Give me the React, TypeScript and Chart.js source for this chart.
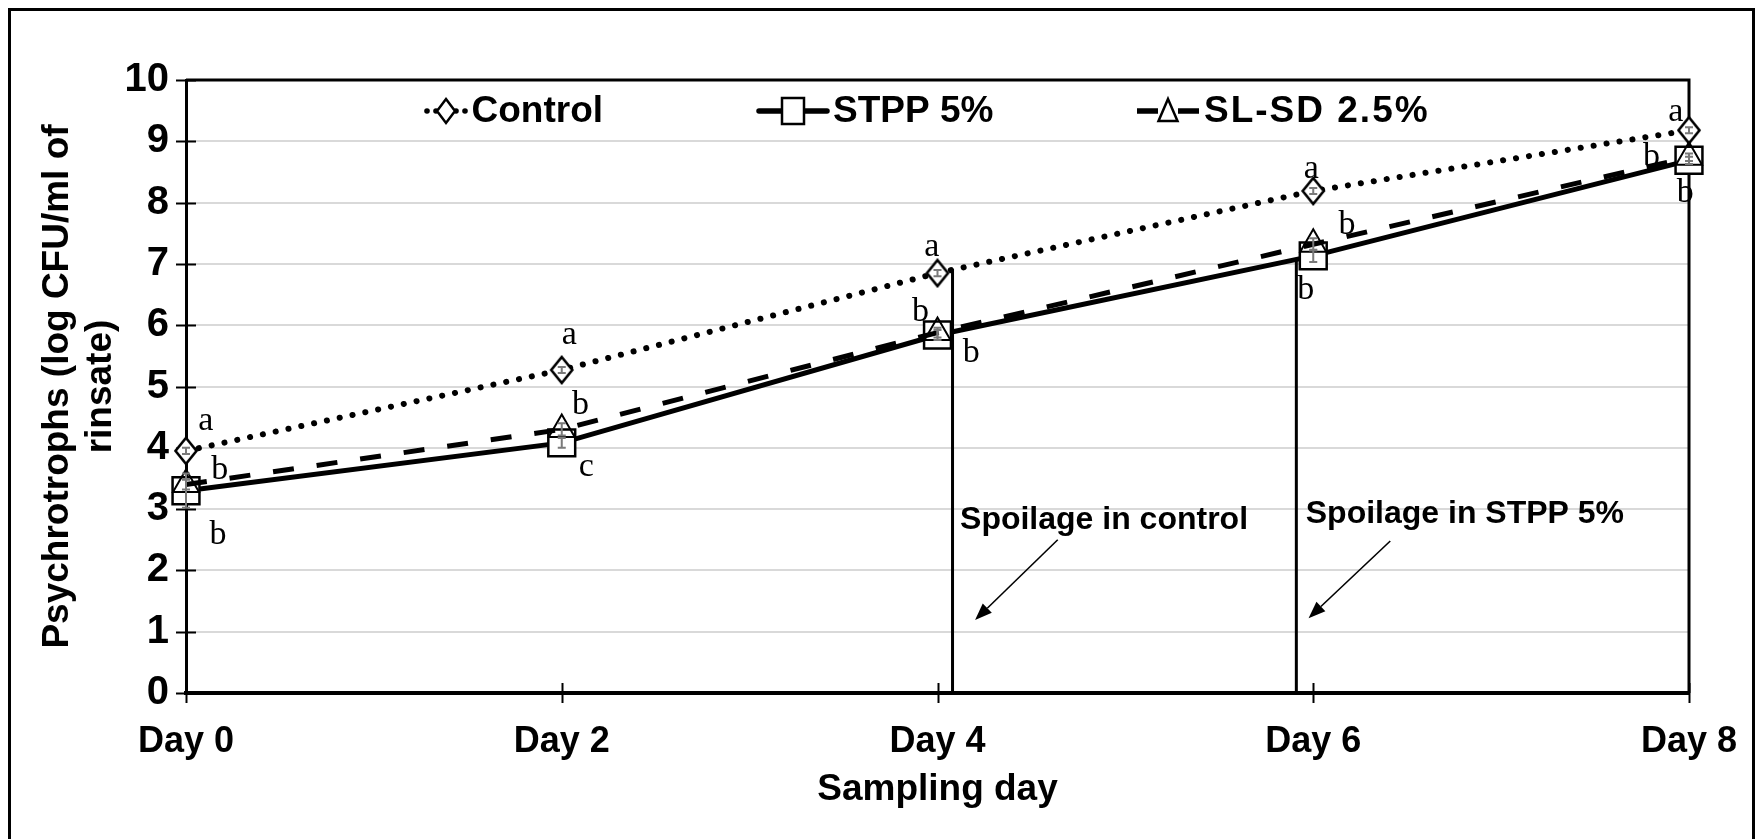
import React, { useEffect, useRef } from 'react';
import { Chart, registerables } from 'chart.js';

Chart.register(...registerables);

// ---------------- data ----------------
const days = [0, 2, 4, 6, 8];
const dayLabels = ['Day 0', 'Day 2', 'Day 4', 'Day 6', 'Day 8'];
const seriesNames = ['Control', 'STPP 5%', 'SL-SD 2.5%'];
const controlValues = [3.95, 5.27, 6.85, 8.19, 9.18];
const stppValues = [3.3, 4.08, 5.84, 7.13, 8.69];
const slsdValues = [3.4, 4.3, 5.88, 7.32, 8.74];
const controlSd = [0.05, 0.05, 0.05, 0.05, 0.05];
const stppSd = [0.28, 0.08, 0.08, 0.1, 0.06];
const slsdSd = [0.08, 0.1, 0.08, 0.1, 0.06];
const yTickValues = [0, 1, 2, 3, 4, 5, 6, 7, 8, 9, 10];

// significance letters (data coordinates)
const letterX = [0.106, 0.18, 0.17, 2.04, 2.1, 2.13, 3.97, 3.91, 4.18, 5.99, 6.18, 5.96, 7.93, 7.8, 7.98];
const letterY = [4.44, 3.64, 2.58, 5.84, 4.7, 3.69, 7.28, 6.22, 5.55, 8.54, 7.64, 6.58, 9.47, 8.75, 8.16];
const letterText = ['a', 'b', 'b', 'a', 'b', 'c', 'a', 'b', 'b', 'a', 'b', 'b', 'a', 'b', 'b'];

// spoilage markers (data coordinates)
const spoilageLineX = [4.08, 5.91];
const spoilageLineTop = [6.92, 7.08];
const noteText = ['Spoilage in control', 'Spoilage in STPP 5%'];
const noteX = [4.12, 5.96];
const noteY = [2.82, 2.92];
const arrowFromX = [4.64, 6.41];
const arrowFromY = [2.5, 2.48];
const arrowToX = [4.2, 5.975];
const arrowToY = [1.19, 1.22];

const SANS = '"Liberation Sans", Arial, sans-serif';
const SERIF = '"Liberation Serif", "Times New Roman", serif';

type Marker = 'diamond' | 'square' | 'triangle';

function diamondPath(ctx: CanvasRenderingContext2D, x: number, y: number, hw: number, hh: number) {
  ctx.beginPath();
  ctx.moveTo(x, y - hh);
  ctx.lineTo(x + hw, y);
  ctx.lineTo(x, y + hh);
  ctx.lineTo(x - hw, y);
  ctx.closePath();
}

function makeDiamondImage(): HTMLCanvasElement {
  const c = document.createElement('canvas');
  c.width = 26;
  c.height = 30;
  const g = c.getContext('2d')!;
  g.fillStyle = '#fff';
  g.strokeStyle = '#000';
  g.lineWidth = 2.6;
  diamondPath(g, 13, 15, 10.5, 13);
  g.fill();
  g.stroke();
  return c;
}

function drawMarker(ctx: CanvasRenderingContext2D, m: Marker, x: number, y: number) {
  ctx.save();
  ctx.fillStyle = '#fff';
  ctx.strokeStyle = '#000';
  ctx.lineWidth = 2.5;
  ctx.setLineDash([]);
  if (m === 'diamond') {
    diamondPath(ctx, x, y, 9, 12);
  } else if (m === 'square') {
    ctx.beginPath();
    ctx.rect(x - 11, y - 13, 22, 26);
  } else {
    ctx.beginPath();
    ctx.moveTo(x, y - 12);
    ctx.lineTo(x + 9.5, y + 10);
    ctx.lineTo(x - 9.5, y + 10);
    ctx.closePath();
  }
  ctx.fill();
  ctx.stroke();
  ctx.restore();
}

const decorPlugin = {
  id: 'decor',
  beforeDraw(chart: any) {
    const { ctx, width, height } = chart;
    ctx.save();
    ctx.fillStyle = '#fff';
    ctx.fillRect(0, 0, width, height);
    ctx.restore();
  },
  beforeDatasetsDraw(chart: any) {
    const { ctx, chartArea: a, scales } = chart;
    const xs = scales.x;
    const ys = scales.y;
    ctx.save();
    ctx.strokeStyle = '#000';
    ctx.lineWidth = 3;
    ctx.beginPath();
    ctx.moveTo(a.left, a.top);
    ctx.lineTo(a.right, a.top);
    ctx.lineTo(a.right, a.bottom);
    ctx.stroke();
    // crossing tick marks
    ctx.lineWidth = 2;
    yTickValues.forEach((v) => {
      const py = Math.round(ys.getPixelForValue(v)) + 0.5;
      ctx.beginPath();
      ctx.moveTo(a.left - 10, py);
      ctx.lineTo(a.left + 10, py);
      ctx.stroke();
    });
    days.forEach((d) => {
      const px = Math.round(xs.getPixelForValue(d)) + 0.5;
      ctx.beginPath();
      ctx.moveTo(px, a.bottom - 10);
      ctx.lineTo(px, a.bottom + 10);
      ctx.stroke();
    });
    // spoilage vertical lines
    ctx.lineWidth = 3;
    spoilageLineX.forEach((sx, i) => {
      const px = xs.getPixelForValue(sx);
      ctx.beginPath();
      ctx.moveTo(px, ys.getPixelForValue(spoilageLineTop[i]));
      ctx.lineTo(px, ys.getPixelForValue(0));
      ctx.stroke();
    });
    ctx.restore();
  },
  afterDatasetsDraw(chart: any) {
    const { ctx, chartArea: a, scales } = chart;
    const xs = scales.x;
    const ys = scales.y;
    ctx.save();
    // error bars
    const sets = [
      { v: slsdValues, sd: slsdSd },
      { v: stppValues, sd: stppSd },
      { v: controlValues, sd: controlSd },
    ];
    ctx.strokeStyle = '#7a7a7a';
    ctx.lineWidth = 2;
    sets.forEach((s) => {
      days.forEach((d, i) => {
        const px = xs.getPixelForValue(d);
        const p1 = ys.getPixelForValue(s.v[i] - s.sd[i]);
        const p2 = ys.getPixelForValue(s.v[i] + s.sd[i]);
        ctx.beginPath();
        ctx.moveTo(px, p1);
        ctx.lineTo(px, p2);
        ctx.moveTo(px - 4, p1);
        ctx.lineTo(px + 4, p1);
        ctx.moveTo(px - 4, p2);
        ctx.lineTo(px + 4, p2);
        ctx.stroke();
      });
    });
    // letters
    ctx.fillStyle = '#000';
    ctx.font = `34px ${SERIF}`;
    ctx.textAlign = 'center';
    ctx.textBaseline = 'middle';
    letterText.forEach((t, i) => {
      ctx.fillText(t, xs.getPixelForValue(letterX[i]), ys.getPixelForValue(letterY[i]));
    });
    // spoilage notes
    ctx.font = `bold 32px ${SANS}`;
    ctx.textAlign = 'left';
    noteText.forEach((t, i) => {
      ctx.fillText(t, xs.getPixelForValue(noteX[i]), ys.getPixelForValue(noteY[i]));
      const x0 = xs.getPixelForValue(arrowFromX[i]);
      const y0 = ys.getPixelForValue(arrowFromY[i]);
      const x1 = xs.getPixelForValue(arrowToX[i]);
      const y1 = ys.getPixelForValue(arrowToY[i]);
      const ang = Math.atan2(y1 - y0, x1 - x0);
      const hl = 17;
      const hw = 6.5;
      const bx = x1 - Math.cos(ang) * hl;
      const by = y1 - Math.sin(ang) * hl;
      ctx.strokeStyle = '#000';
      ctx.lineWidth = 1.6;
      ctx.beginPath();
      ctx.moveTo(x0, y0);
      ctx.lineTo(bx, by);
      ctx.stroke();
      ctx.beginPath();
      ctx.moveTo(x1, y1);
      ctx.lineTo(bx + Math.sin(ang) * hw, by - Math.cos(ang) * hw);
      ctx.lineTo(bx - Math.sin(ang) * hw, by + Math.cos(ang) * hw);
      ctx.closePath();
      ctx.fill();
    });
    // legend
    const ly = a.top + 31;
    const L = a.left;
    ctx.save();
    ctx.fillStyle = '#000';
    [241, 250, 270, 279].forEach((dx) => {
      ctx.beginPath();
      ctx.arc(L + dx, ly, 2.8, 0, Math.PI * 2);
      ctx.fill();
    });
    ctx.strokeStyle = '#000';
    ctx.lineWidth = 5.5;
    ctx.lineCap = 'round';
    ctx.beginPath();
    ctx.moveTo(L + 573, ly);
    ctx.lineTo(L + 641, ly);
    ctx.stroke();
    ctx.lineCap = 'butt';
    ctx.beginPath();
    ctx.moveTo(L + 951, ly);
    ctx.lineTo(L + 972, ly);
    ctx.moveTo(L + 992, ly);
    ctx.lineTo(L + 1013, ly);
    ctx.stroke();
    ctx.restore();
    drawMarker(ctx, 'diamond', L + 260, ly);
    drawMarker(ctx, 'square', L + 607, ly);
    drawMarker(ctx, 'triangle', L + 982, ly);
    const textX = [285.5, 647, 1018];
    const spacing = ['0px', '0px', '2px'];
    ctx.fillStyle = '#000';
    ctx.font = `bold 37px ${SANS}`;
    ctx.textAlign = 'left';
    ctx.textBaseline = 'middle';
    seriesNames.forEach((n, i) => {
      (ctx as any).letterSpacing = spacing[i];
      ctx.fillText(n, L + textX[i], ly + 1);
    });
    (ctx as any).letterSpacing = '0px';
    ctx.restore();
  },
  afterDraw(chart: any) {
    const { ctx } = chart;
    ctx.save();
    ctx.strokeStyle = '#000';
    ctx.lineWidth = 3;
    ctx.beginPath();
    ctx.moveTo(9.5, 900);
    ctx.lineTo(9.5, 9.5);
    ctx.lineTo(1753.5, 9.5);
    ctx.lineTo(1753.5, 900);
    ctx.stroke();
    ctx.restore();
  },
};

export default function App() {
  const ref = useRef<HTMLCanvasElement | null>(null);
  useEffect(() => {
    if (!ref.current) return;
    const pts = (vals: number[]) => days.map((d, i) => ({ x: d, y: vals[i] }));
    const diamond = makeDiamondImage();
    const chart = new Chart(ref.current, {
      type: 'line',
      data: {
        datasets: [
          {
            label: seriesNames[0],
            data: pts(controlValues),
            borderColor: '#000',
            borderWidth: 6,
            borderDash: [0.1, 13],
            borderCapStyle: 'round',
            pointStyle: diamond,
            pointRadius: 12,
            pointBackgroundColor: '#fff',
            pointBorderColor: '#000',
            pointBorderWidth: 2.5,
            tension: 0,
            clip: false,
            order: 2,
          } as any,
          {
            label: seriesNames[1],
            data: pts(stppValues),
            borderColor: '#000',
            borderWidth: 5,
            pointStyle: 'rect',
            pointRadius: 19,
            pointBackgroundColor: '#fff',
            pointBorderColor: '#000',
            pointBorderWidth: 2.5,
            tension: 0,
            clip: false,
            order: 1,
          } as any,
          {
            label: seriesNames[2],
            data: pts(slsdValues),
            borderColor: '#000',
            borderWidth: 5,
            borderDash: [21, 23],
            pointStyle: 'triangle',
            pointRadius: 15,
            pointBackgroundColor: 'rgba(255,255,255,0)',
            pointBorderColor: '#000',
            pointBorderWidth: 2,
            tension: 0,
            clip: false,
            order: 0,
          } as any,
        ],
      },
      options: {
        animation: false,
        responsive: false,
        maintainAspectRatio: false,
        layout: { padding: { left: 20, top: 80, right: 67, bottom: 0 } },
        plugins: { legend: { display: false }, tooltip: { enabled: false } },
        events: [],
        scales: {
          x: {
            type: 'linear',
            min: 0,
            max: 8,
            afterFit: (s: any) => {
              s.height = 146;
              s.paddingLeft = 0;
              s.paddingRight = 0;
            },
            afterBuildTicks: (s: any) => {
              s.ticks = days.map((d) => ({ value: d }));
            },
            ticks: {
              callback: (v: any) => dayLabels[days.indexOf(Number(v))] ?? '',
              color: '#000',
              font: { family: SANS, size: 36, weight: 'bold' },
              padding: 27,
              maxRotation: 0,
              autoSkip: false,
            },
            grid: { display: false, drawTicks: false },
            border: { display: true, color: '#000', width: 4 },
            title: {
              display: true,
              text: 'Sampling day',
              color: '#000',
              font: { family: SANS, size: 37, weight: 'bold', lineHeight: 1.2 },
              padding: { top: 0, bottom: 27 },
            },
          },
          y: {
            type: 'linear',
            min: 0,
            max: 10,
            afterFit: (s: any) => {
              s.width = 166;
            },
            afterBuildTicks: (s: any) => {
              s.ticks = yTickValues.map((v) => ({ value: v }));
            },
            ticks: {
              color: '#000',
              font: { family: SANS, size: 40, weight: 'bold' },
              padding: 17,
            },
            grid: { color: '#d9d9d9', lineWidth: 2, drawTicks: false },
            border: { display: true, color: '#000', width: 3 },
            title: {
              display: true,
              text: ['Psychrotrophs (log CFU/ml of', 'rinsate)'],
              color: '#000',
              font: { family: SANS, size: 37, weight: 'bold', lineHeight: 1.17 },
              padding: { top: 16, bottom: 0 },
            },
          },
        },
      },
      plugins: [decorPlugin],
    } as any);
    return () => chart.destroy();
  }, []);
  return (
    <div style={{ position: 'fixed', left: 0, top: 0, width: 1756, height: 839, background: '#fff' }}>
      <canvas ref={ref} width={1756} height={839} style={{ display: 'block', width: 1756, height: 839 }} />
    </div>
  );
}
